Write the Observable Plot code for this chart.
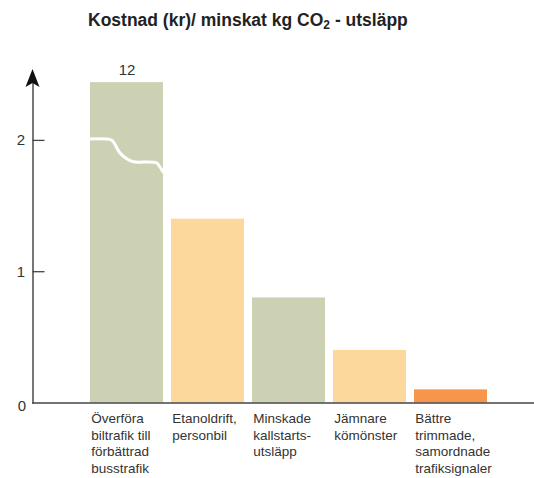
<!DOCTYPE html>
<html>
<head>
<meta charset="utf-8">
<script src="https://cdn.jsdelivr.net/npm/d3@7"></script>
<script src="https://cdn.jsdelivr.net/npm/@observablehq/plot@0.6"></script>
<style>
  body { margin: 0; background: #fff; font-family: "Liberation Sans", Arial, Helvetica, sans-serif; }
  #wrap { position: relative; width: 534px; height: 478px; }
  #title { position: absolute; left: 88px; top: 10px; font-size: 17.5px; line-height: 20px; font-weight: bold; color: #222; white-space: nowrap; z-index: 2; }
  #title sub { font-size: 12px; vertical-align: -3px; line-height: 0; }
  #chart svg { display: block; }
</style>
</head>
<body>
<div id="wrap">
  <div id="title">Kostnad (kr)/ minskat kg CO<sub>2</sub> - utsläpp</div>
  <div id="chart"></div>
</div>
<script>
// ---- data ----
const categories = [
  "Överföra\nbiltrafik till\nförbättrad\nbusstrafik",
  "Etanoldrift,\npersonbil",
  "Minskade\nkallstarts-\nutsläpp",
  "Jämnare\nkömönster",
  "Bättre\ntrimmade,\nsamordnade\ntrafiksignaler"
];
const values = [2.44, 1.4, 0.8, 0.4, 0.1];          // drawn height (bar 1 is broken)
const valueLabels = ["12", "", "", "", ""];          // true value printed above broken bar
const colors = ["#ccd1b4", "#fdd89c", "#ccd1b4", "#fdd89c", "#f7964a"];
const yTicks = [0, 1, 2];
// white break line across the first bar: t = fraction of bar width, v = value
const breakT = [-0.01, 0.29, 0.33, 0.40, 0.47, 0.55, 0.62, 0.91, 0.95, 1.01];
const breakV = [2.007, 2.0, 1.977, 1.908, 1.870, 1.843, 1.832, 1.826, 1.801, 1.748];

const data = categories.map((c, i) => ({cat: c, value: values[i], label: valueLabels[i], color: colors[i]}));
const breakLine = breakT.map((t, i) => ({t, v: breakV[i]}));

const FONT = '"Liberation Sans", Arial, Helvetica, sans-serif';

function breakMark(index, scales) {
  const x0 = scales.x(categories[0]);
  const bw = scales.x.bandwidth ? scales.x.bandwidth() : 73.4;
  const line = d3.line().x(d => x0 + d.t * bw).y(d => scales.y(d.v)).curve(d3.curveCatmullRom);
  const g = d3.create("svg:g");
  g.append("path").attr("d", line(breakLine)).attr("fill", "none")
    .attr("stroke", "#fff").attr("stroke-width", 3).attr("stroke-linecap", "butt").attr("stroke-linejoin", "round");
  return g.node();
}

function arrowMark(index, scales, values, dims) {
  const x = dims.marginLeft, yb = dims.marginTop;
  const g = d3.create("svg:g");
  const tip = yb - 11;
  g.append("path")
    .attr("d", `M${x},${tip} L${x + 7},${yb + 7} L${x},${yb + 3} L${x - 7},${yb + 7} Z`)
    .attr("fill", "#111");
  return g.node();
}

const chart = Plot.plot({
  width: 534,
  height: 478,
  marginLeft: 32.5,
  marginRight: 0,
  marginTop: 80,
  marginBottom: 75.5,
  style: {fontFamily: FONT, background: "transparent"},
  x: {type: "band", domain: categories, range: [88.3, 488], paddingInner: 0.1, paddingOuter: 0, axis: null},
  y: {domain: [0, 2.5], range: [402.5, 74.25], axis: null},
  color: {type: "identity"},
  marks: [
    Plot.barY(data, {x: "cat", y: "value", fill: "color"}),
    breakMark,
    Plot.frame({anchor: "left", stroke: "#555", strokeWidth: 1.6}),
    Plot.frame({anchor: "bottom", stroke: "#444", strokeWidth: 1.6}),
    arrowMark,
    Plot.axisY(yTicks.filter(d => d > 0), {tickSize: -12, text: null, label: null, stroke: "#444", strokeWidth: 1.3}),
    Plot.axisY(yTicks.filter(d => d > 0), {tickSize: 0, tickPadding: 8, fontSize: 15, fill: "#333", tickFormat: d => String(d), label: null}),
    Plot.axisY(yTicks.filter(d => d === 0), {tickSize: 0, tickPadding: 7, dy: 3, fontSize: 15, fill: "#333", tickFormat: d => String(d), label: null}),
    Plot.text(data, {x: "cat", y: "value", text: "label", lineAnchor: "bottom", dy: -8, fontSize: 15, fill: "#333"}),
    Plot.text(data, {x: "cat", y: () => 0, text: "cat", textAnchor: "start", lineAnchor: "top",
      dx: -35.7, dy: 8, fontSize: 13.5, lineHeight: 1.24, fill: "#333"})
  ]
});
document.getElementById("chart").appendChild(chart);
</script>
</body>
</html>
